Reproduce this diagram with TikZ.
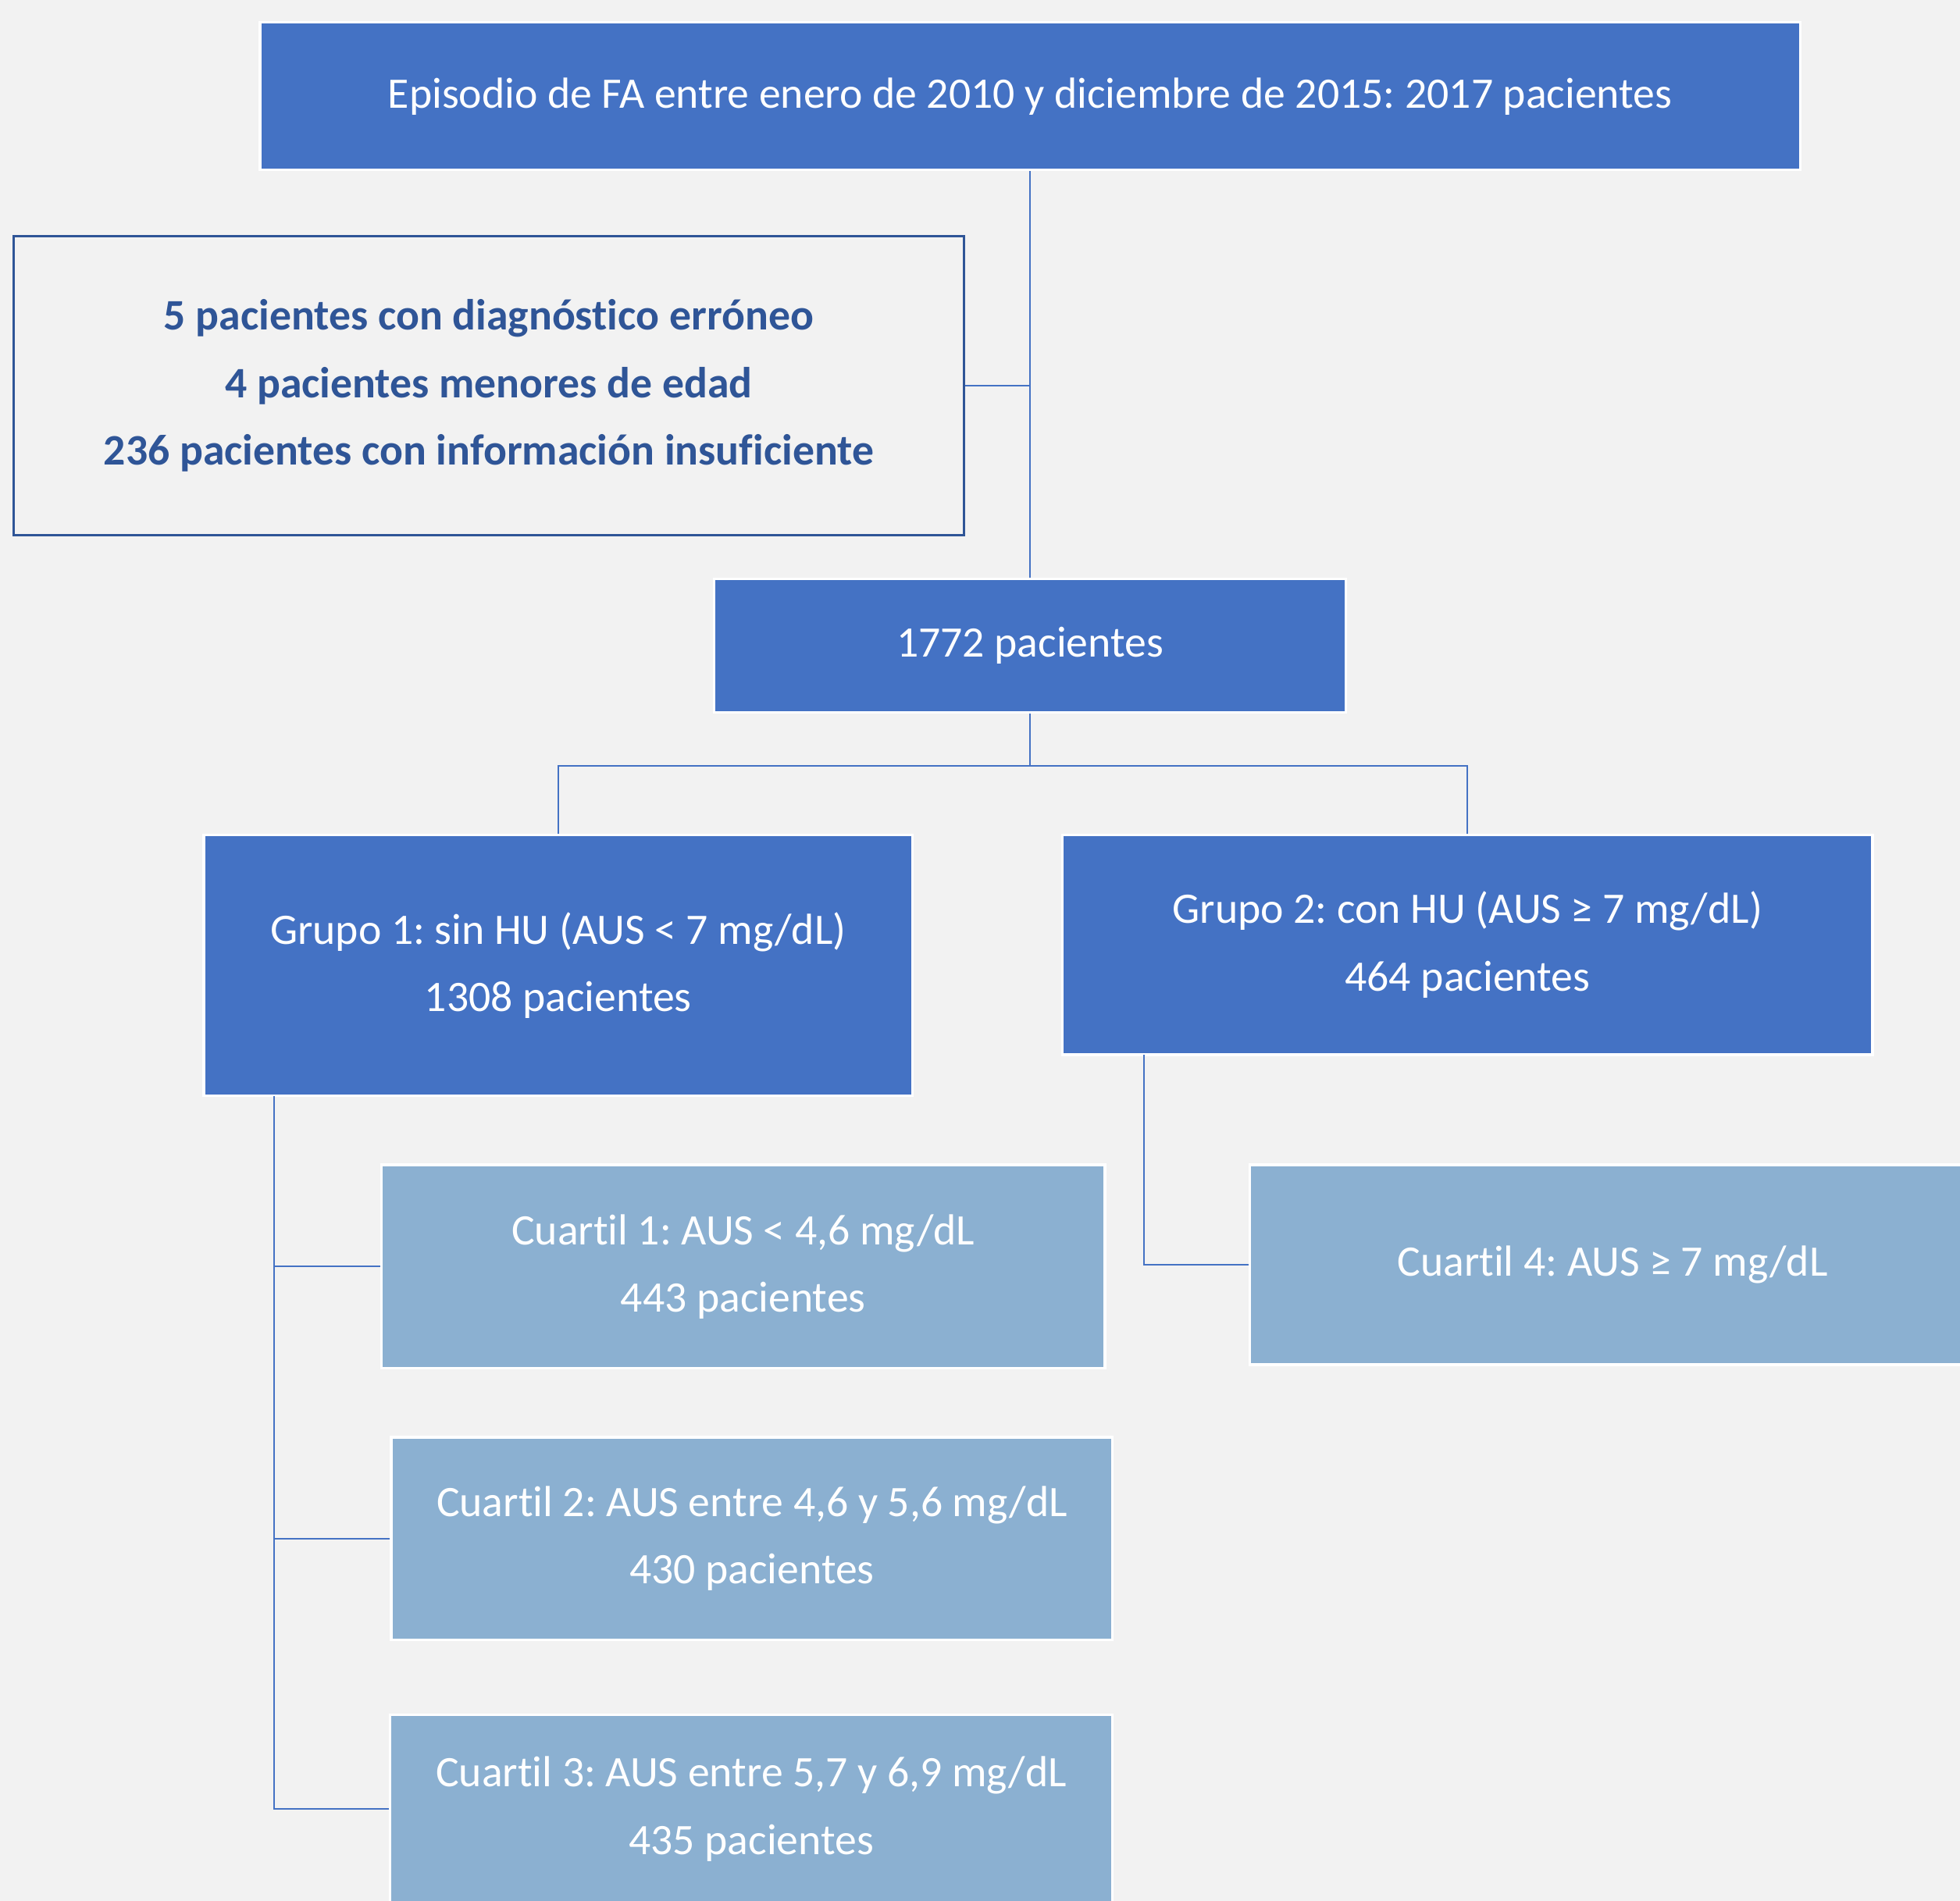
\documentclass[tikz,border=0pt]{standalone}
\usepackage{fontspec}
\setmainfont[RawFeature={-liga;-clig;-calt;-dlig}]{Carlito}
\frenchspacing
\definecolor{bgcol}{HTML}{F2F2F2}
\definecolor{mainblue}{HTML}{4472C4}
\definecolor{lightblue}{RGB}{139,176,209}
\definecolor{darkblue}{HTML}{2F5597}
\tikzset{
  base/.style={rectangle, inner sep=0pt, align=center,
    font=\fontsize{17.4}{27}\selectfont},
  darkbox/.style={base, fill=mainblue, draw=white, line width=1pt, text=white},
  lightbox/.style={base, fill=lightblue, draw=white, line width=1pt, text=white},
  exclbox/.style={base, draw=darkblue, line width=0.9pt, text=darkblue,
    font=\fontsize{17.4}{27}\selectfont\bfseries},
  link/.style={draw=mainblue, line width=0.65pt}
}
\begin{document}
\begin{tikzpicture}[x=0.5pt,y=-0.5pt]
\useasboundingbox (0,0) rectangle (1568,1521);
\clip (0,0) rectangle (1568,1521);
\fill[bgcol] (0,0) rectangle (1568,1521);

% boxes
\node[darkbox, minimum width=616pt, minimum height=59pt] (top) at (824,77)
  {Episodio de FA entre enero de 2010 y diciembre de 2015: 2017 pacientes};
\node[exclbox, minimum width=380pt, minimum height=119.5pt] (excl) at (391,308.5)
  {5 pacientes con diagnóstico erróneo\\4 pacientes menores de edad\\236 pacientes con información insuficiente};
\node[darkbox, minimum width=252.5pt, minimum height=53.5pt] (total) at (824,516.5)
  {1772 pacientes};
\node[darkbox, minimum width=283.5pt, minimum height=104.5pt] (g1) at (446.5,772.5)
  {Grupo 1: sin HU (AUS < 7 mg/dL)\\1308 pacientes};
\node[darkbox, minimum width=324pt, minimum height=88pt] (g2) at (1174,756)
  {Grupo 2: con HU (AUS ≥ 7 mg/dL)\\464 pacientes};
\node[lightbox, minimum width=289.5pt, minimum height=81.5pt] (c1) at (594.5,1013.5)
  {Cuartil 1: AUS < 4,6 mg/dL\\443 pacientes};
\node[lightbox, minimum width=290pt, minimum height=80pt] (c4) at (1290,1012)
  {Cuartil 4: AUS ≥ 7 mg/dL};
\node[lightbox, minimum width=288.5pt, minimum height=81pt] (c2) at (601.5,1231)
  {Cuartil 2: AUS entre 4,6 y 5,6 mg/dL\\430 pacientes};
\node[lightbox, minimum width=289pt, minimum height=75.5pt] (c3) at (601,1447.5)
  {Cuartil 3: AUS entre 5,7 y 6,9 mg/dL\\435 pacientes};

% connectors
\draw[link] (top.south) -- (total.north);
\draw[link] (excl.east) -- (excl.east -| top.south);
\coordinate (split) at (824,613);
\draw[link] (total.south) -- (split);
\draw[link] (g1.north) |- (split) -| (g2.north);
\coordinate (g1foot) at (219,877);
\draw[link] (g1foot) |- (c1.west);
\draw[link] (g1foot) |- (c2.west);
\draw[link] (g1foot) |- (c3.west);
\coordinate (g2foot) at (915,844);
\draw[link] (g2foot) |- (c4.west);
\end{tikzpicture}
\end{document}
